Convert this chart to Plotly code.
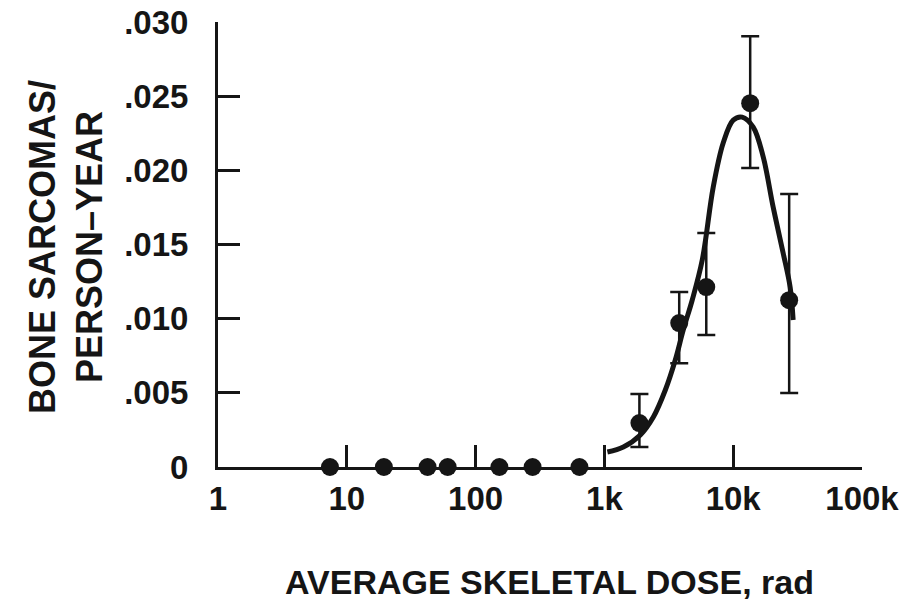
import plotly.graph_objects as go

# Data
zero_dose = [7.4, 19.4, 42.4, 60.7, 153, 277, 640]
zero_rate = [0, 0, 0, 0, 0, 0, 0]

dose = [1870, 3810, 6180, 13550, 27200]
rate = [0.00296, 0.0097, 0.01213, 0.02453, 0.01125]
err_hi = [0.00492, 0.0118, 0.01577, 0.02904, 0.0184]
err_lo = [0.00135, 0.0070, 0.0089, 0.02015, 0.00499]

fit_dose = [1055, 1404, 1901, 2399, 2972, 3551, 4096, 4808, 5750, 7000, 8360,
            10000, 11740, 14300, 17100, 20420, 24420, 27670, 29200]
fit_rate = [0.00101, 0.00135, 0.00216, 0.00337, 0.00519, 0.00721, 0.00924,
            0.01126, 0.01395, 0.01888, 0.02184, 0.02339, 0.02359, 0.02292,
            0.0209, 0.01753, 0.01443, 0.01213, 0.00991]

x_tickvals = [1, 10, 100, 1000, 10000, 100000]
x_ticktext = ["1", "10", "100", "1k", "10k", "100k"]
y_tickvals = [0, 0.005, 0.010, 0.015, 0.020, 0.025, 0.030]
y_ticktext = ["0", ".005", ".010", ".015", ".020", ".025", ".030"]

INK = "#151515"
FONT = "Liberation Sans"

fig = go.Figure()

fig.add_trace(go.Scatter(
    x=fit_dose, y=fit_rate, mode="lines",
    line=dict(color=INK, width=5, shape="spline", smoothing=1.0),
    hoverinfo="skip", showlegend=False, cliponaxis=False,
))

fig.add_trace(go.Scatter(
    x=zero_dose, y=zero_rate, mode="markers",
    marker=dict(color=INK, size=18),
    showlegend=False, cliponaxis=False,
))

fig.add_trace(go.Scatter(
    x=dose, y=rate, mode="markers",
    marker=dict(color=INK, size=18),
    error_y=dict(
        type="data", symmetric=False,
        array=[h - r for h, r in zip(err_hi, rate)],
        arrayminus=[r - l for r, l in zip(rate, err_lo)],
        color=INK, thickness=2.5, width=9,
    ),
    showlegend=False, cliponaxis=False,
))

L, R, T, B = 218, 43, 22, 136
W = 905 - L - R
H = 603 - T - B

fig.update_layout(
    width=905, height=603,
    margin=dict(l=L, r=R, t=T, b=B),
    paper_bgcolor="white", plot_bgcolor="white",
    font=dict(family=FONT, color=INK),
    xaxis=dict(
        type="log", range=[0, 5], automargin=False,
        tickvals=x_tickvals, ticktext=x_ticktext,
        ticks="inside", ticklen=22, tickwidth=2.5, tickcolor=INK,
        showline=True, linewidth=3, linecolor=INK,
        showgrid=False, zeroline=False,
        tickfont=dict(family=FONT, size=33, weight="bold", color=INK),
        ticklabelstandoff=0,
    ),
    yaxis=dict(
        range=[0, 0.030], automargin=False,
        tickvals=y_tickvals, ticktext=y_ticktext,
        ticks="inside", ticklen=22, tickwidth=2.5, tickcolor=INK,
        showline=True, linewidth=3, linecolor=INK,
        showgrid=False, zeroline=False,
        tickfont=dict(family=FONT, size=33, weight="bold", color=INK),
        ticklabelstandoff=20,
    ),
    annotations=[
        dict(text="AVERAGE SKELETAL DOSE, rad", xref="paper", yref="paper",
             x=(549 - L) / W, y=(467 - 582) / H, showarrow=False,
             xanchor="center", yanchor="middle",
             font=dict(family=FONT, size=34, weight="bold", color=INK)),
        dict(text="BONE SARCOMAS/<br>PERSON\u2013YEAR", xref="paper", yref="paper",
             x=(66 - L) / W, y=(467 - 247) / H, showarrow=False, textangle=-90,
             xanchor="center", yanchor="middle", align="center",
             font=dict(family=FONT, size=36, weight="bold", color=INK)),
    ],
)

fig.write_html("out.html")
